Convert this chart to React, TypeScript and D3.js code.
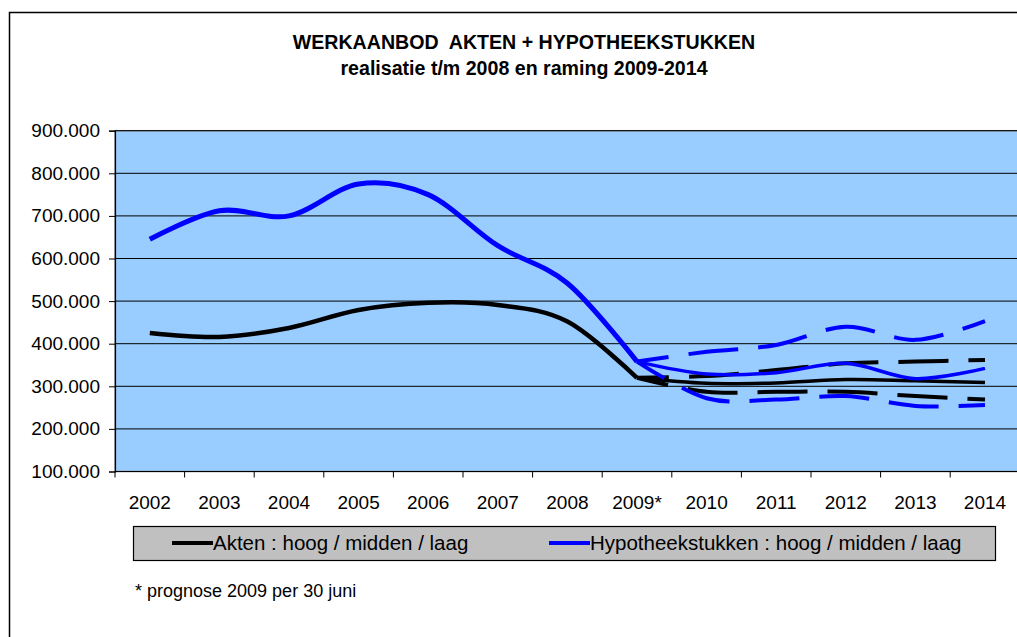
import React, { useEffect, useRef } from "react";
import * as d3 from "d3";

// categories on the x axis
const years = ["2002", "2003", "2004", "2005", "2006", "2007", "2008", "2009*", "2010", "2011", "2012", "2013", "2014"];
const realYears = ["2002", "2003", "2004", "2005", "2006", "2007", "2008", "2009*"];
const prognoseYears = ["2009*", "2010", "2011", "2012", "2013", "2014"];

// realisatie (t/m 2009 prognose)
const aktenRealisatie = [425000, 416000, 437000, 479000, 496000, 491000, 452000, 320000];
const hypoRealisatie = [645000, 712000, 700000, 775000, 750000, 630000, 542000, 358000];

// raming 2009-2014
const aktenHoog = [320000, 324000, 338000, 354000, 358000, 362000];
const aktenMidden = [320000, 307000, 308000, 316000, 313000, 309000];
const aktenLaag = [320000, 287000, 287000, 287000, 277000, 269000];
const hypoHoog = [358000, 381000, 397000, 440000, 409000, 453000];
const hypoMidden = [358000, 329000, 332000, 354000, 318000, 342000];
const hypoLaag = [358000, 272000, 269000, 277000, 254000, 256000];

const yTicks = [100000, 200000, 300000, 400000, 500000, 600000, 700000, 800000, 900000];

const FONT = "'Liberation Sans', Arial, sans-serif";

const App = () => {
  const svgRef = useRef(null);

  useEffect(() => {
    const width = 1017;
    const height = 637;
    const plot = { left: 115, top: 130.7, right: 1019.8, bottom: 471.5 };

    const svg = d3.select(svgRef.current);
    svg.selectAll("*").remove();
    svg.attr("width", width).attr("height", height);

    // chart area with border (runs off the page at right/bottom)
    svg
      .append("rect")
      .attr("x", 9.5)
      .attr("y", 12.5)
      .attr("width", 1100)
      .attr("height", 700)
      .attr("fill", "white")
      .attr("stroke", "black")
      .attr("stroke-width", 1.5);

    // title
    const title = svg
      .append("text")
      .attr("text-anchor", "middle")
      .style("font-family", FONT)
      .style("font-weight", "bold")
      .style("font-size", "19.6px");
    title.append("tspan").attr("x", 524).attr("y", 49).attr("xml:space", "preserve").text("WERKAANBOD  AKTEN + HYPOTHEEKSTUKKEN");
    title.append("tspan").attr("x", 524).attr("y", 75).text("realisatie t/m 2008 en raming 2009-2014");

    const x = d3.scaleBand().domain(years).range([plot.left, plot.right]);
    const cx = (d) => x(d) + x.bandwidth() / 2;
    const y = d3.scaleLinear().domain([100000, 900000]).range([plot.bottom, plot.top]);

    const nl = d3.formatLocale({ decimal: ",", thousands: ".", grouping: [3], currency: ["", ""] });
    const fmt = nl.format(",");

    // plot area
    svg
      .append("rect")
      .attr("x", plot.left)
      .attr("y", plot.top)
      .attr("width", plot.right - plot.left)
      .attr("height", plot.bottom - plot.top)
      .attr("fill", "#99CCFF")
      .attr("stroke", "#808080")
      .attr("stroke-width", 1.5);

    // gridlines
    svg
      .append("g")
      .selectAll("line")
      .data(yTicks.slice(1))
      .enter()
      .append("line")
      .attr("x1", plot.left)
      .attr("x2", plot.right)
      .attr("y1", (d) => y(d))
      .attr("y2", (d) => y(d))
      .attr("stroke", "black")
      .attr("stroke-width", 1);

    // y axis
    const yAxis = svg
      .append("g")
      .attr("transform", `translate(${plot.left},0)`)
      .call(d3.axisLeft(y).tickValues(yTicks).tickSize(6).tickPadding(9).tickFormat(fmt));
    yAxis.select(".domain").attr("stroke", "black").attr("stroke-width", 1.2);
    yAxis.selectAll("line").attr("stroke", "black");
    yAxis.selectAll("text").style("font-family", FONT).style("font-size", "19px").attr("fill", "black");

    // x axis: line, ticks between categories, labels centred
    svg
      .append("line")
      .attr("x1", plot.left)
      .attr("x2", plot.right)
      .attr("y1", plot.bottom)
      .attr("y2", plot.bottom)
      .attr("stroke", "black")
      .attr("stroke-width", 1.2);
    svg
      .append("g")
      .selectAll("line")
      .data(years)
      .enter()
      .append("line")
      .attr("x1", (d) => x(d))
      .attr("x2", (d) => x(d))
      .attr("y1", plot.bottom)
      .attr("y2", plot.bottom + 6)
      .attr("stroke", "black");
    svg
      .append("g")
      .selectAll("text")
      .data(years)
      .enter()
      .append("text")
      .attr("x", (d) => cx(d))
      .attr("y", 509)
      .attr("text-anchor", "middle")
      .style("font-family", FONT)
      .style("font-size", "19px")
      .text((d) => d);

    // series
    const line = (cats) =>
      d3
        .line()
        .x((d, i) => cx(cats[i]))
        .y((d) => y(d))
        .curve(d3.curveCardinal.tension(0));

    const series = [
      { cats: realYears, values: aktenRealisatie, color: "black", width: 4.5, dash: null },
      { cats: realYears, values: hypoRealisatie, color: "#0000FF", width: 5, dash: null },
      { cats: prognoseYears, values: aktenHoog, color: "black", width: 4, dash: "50 20" },
      { cats: prognoseYears, values: aktenLaag, color: "black", width: 4, dash: "50 20" },
      { cats: prognoseYears, values: aktenMidden, color: "black", width: 3.5, dash: null },
      { cats: prognoseYears, values: hypoHoog, color: "#0000FF", width: 4, dash: "50 20" },
      { cats: prognoseYears, values: hypoLaag, color: "#0000FF", width: 4, dash: "50 20" },
      { cats: prognoseYears, values: hypoMidden, color: "#0000FF", width: 3.5, dash: null },
    ];

    svg
      .append("g")
      .selectAll("path")
      .data(series)
      .enter()
      .append("path")
      .attr("d", (s) => line(s.cats)(s.values))
      .attr("fill", "none")
      .attr("stroke", (s) => s.color)
      .attr("stroke-width", (s) => s.width)
      .attr("stroke-dasharray", (s) => s.dash)
      .attr("stroke-dashoffset", (s) => (s.dash ? 18 : null));

    // legend
    const legend = svg.append("g");
    legend
      .append("rect")
      .attr("x", 133.5)
      .attr("y", 526.5)
      .attr("width", 862)
      .attr("height", 34)
      .attr("fill", "#C0C0C0")
      .attr("stroke", "black")
      .attr("stroke-width", 1.2);
    const items = [
      { label: "Akten : hoog / midden / laag", color: "black", x: 172 },
      { label: "Hypotheekstukken : hoog / midden / laag", color: "#0000FF", x: 549 },
    ];
    items.forEach((it) => {
      legend
        .append("line")
        .attr("x1", it.x)
        .attr("x2", it.x + 41)
        .attr("y1", 543)
        .attr("y2", 543)
        .attr("stroke", it.color)
        .attr("stroke-width", 4);
      legend
        .append("text")
        .attr("x", it.x + 41)
        .attr("y", 550)
        .style("font-family", FONT)
        .style("font-size", "20.5px")
        .text(it.label);
    });

    // footnote
    svg
      .append("text")
      .attr("x", 135)
      .attr("y", 597)
      .style("font-family", FONT)
      .style("font-size", "18px")
      .text("* prognose 2009 per 30 juni");
  }, []);

  return <svg ref={svgRef} style={{ position: "absolute", left: 0, top: 0, display: "block" }} />;
};

export default App;
